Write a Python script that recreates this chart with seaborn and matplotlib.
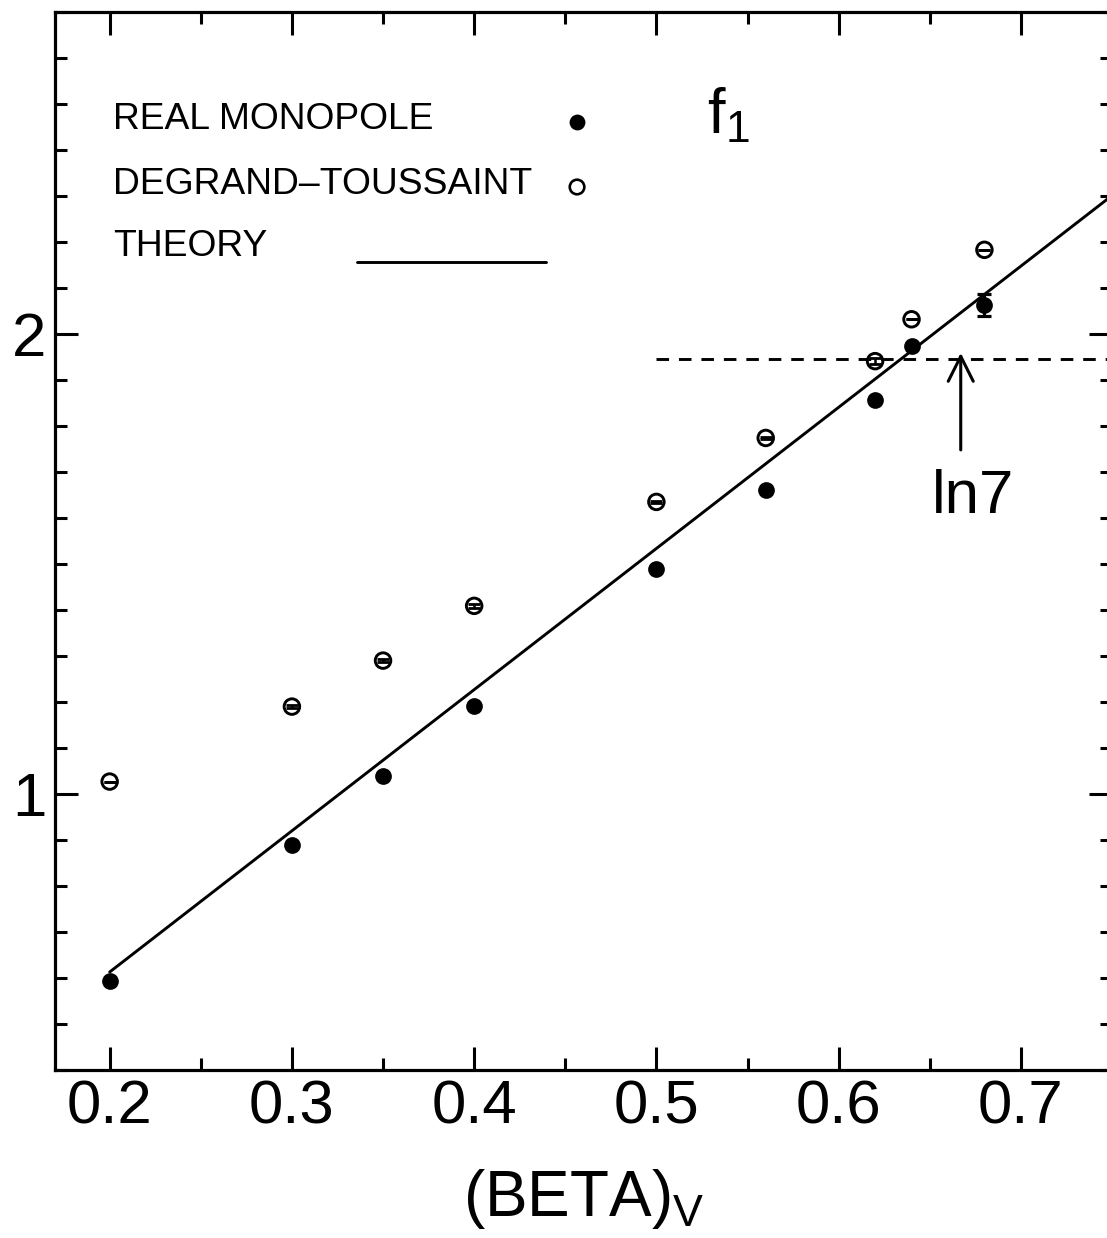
import numpy as np
import pandas as pd
import matplotlib
matplotlib.use("Agg")
import matplotlib.pyplot as plt
from matplotlib.ticker import MultipleLocator, FixedLocator, FormatStrFormatter
import seaborn as sns

# ---------------- data ----------------
beta = [0.20, 0.30, 0.35, 0.40, 0.50, 0.56, 0.62, 0.64, 0.68]
real_monopole = [0.593, 0.889, 1.039, 1.192, 1.489, 1.661, 1.857, 1.974, 2.063]
real_err = [0.0, 0.0, 0.0, 0.0, 0.0, 0.0, 0.0, 0.0, 0.023]
degrand_toussaint = [1.027, 1.190, 1.290, 1.409, 1.635, 1.774, 1.941, 2.032, 2.183]
dt_err = [0.0, 0.004, 0.004, 0.004, 0.003, 0.003, 0.007, 0.0, 0.0]

theory_beta = [0.20, 0.75]
theory_f1 = [0.613, 2.301]

ln7_beta = [0.50, 0.75]
ln7_value = float(np.log(7.0))
arrow_beta = 0.667
arrow_from = 1.748
arrow_to = 1.959

legend_labels = ["REAL MONOPOLE", "DEGRAND\u2013TOUSSAINT", "THEORY"]
x_ticks = [0.2, 0.3, 0.4, 0.5, 0.6, 0.7]
y_ticks = [1, 2]

# ---------------- style ----------------
sns.set_theme(style="ticks")
plt.rcParams["font.family"] = ["Liberation Sans", "DejaVu Sans"]
plt.rcParams["mathtext.fontset"] = "custom"
plt.rcParams["mathtext.rm"] = "Liberation Sans"
plt.rcParams["mathtext.it"] = "Liberation Sans:italic"
plt.rcParams["axes.linewidth"] = 2.3
plt.rcParams["axes.edgecolor"] = "black"

W, H = 1107, 1238
fig = plt.figure(figsize=(W / 100, H / 100), dpi=100)
fig.patch.set_facecolor("white")
ax = fig.add_axes([55 / W, (H - 1070) / H, (1112 - 55) / W, (1070 - 12) / H])
ax.set_facecolor("white")

df_real = pd.DataFrame({"beta": beta, "f1": real_monopole, "err": real_err})
df_dt = pd.DataFrame({"beta": beta, "f1": degrand_toussaint, "err": dt_err})
df_th = pd.DataFrame({"beta": theory_beta, "f1": theory_f1})

LW = 2.1

# theory line
sns.lineplot(data=df_th, x="beta", y="f1", color="black", linewidth=LW, ax=ax, zorder=2)

# ln7 dashed line
ax.plot(ln7_beta, [ln7_value, ln7_value], color="black", linewidth=LW,
        dashes=(4.3, 3.4), zorder=2)

# data points
sns.scatterplot(data=df_real, x="beta", y="f1", color="black", s=145,
                linewidth=0, marker="o", ax=ax, zorder=4)
sns.scatterplot(data=df_dt, x="beta", y="f1", facecolor="none", edgecolor="black",
                s=125, linewidth=2.1, marker="o", ax=ax, zorder=4)

# error bars
ax.errorbar(df_real["beta"], df_real["f1"], yerr=df_real["err"], fmt="none",
            ecolor="black", elinewidth=2.2, capsize=5.0, capthick=2.3, zorder=5)
ax.errorbar(df_dt["beta"], df_dt["f1"], yerr=df_dt["err"], fmt="none",
            ecolor="black", elinewidth=1.8, capsize=4.6, capthick=2.0, zorder=5)

# arrow + ln7 label
ax.annotate("", xy=(arrow_beta, arrow_to), xytext=(arrow_beta, arrow_from),
            arrowprops=dict(arrowstyle="->,head_length=0.4,head_width=0.2",
                            mutation_scale=45, lw=2.2, color="black",
                            shrinkA=0, shrinkB=0), zorder=6)
ax.text(0.6738, 1.645, "ln7", fontsize=44.5, ha="center", va="center", color="black")

# hand-made legend (axes fraction)
tr = ax.transAxes
ax.text(0.0549, 0.898, legend_labels[0], transform=tr, fontsize=26.8,
        ha="left", va="center", color="black")
ax.text(0.0549, 0.8365, legend_labels[1], transform=tr, fontsize=26.8,
        ha="left", va="center", color="black")
ax.text(0.0549, 0.7779, legend_labels[2], transform=tr, fontsize=26.8,
        ha="left", va="center", color="black")
ax.scatter([0.4939], [0.896], transform=tr, s=130, color="black", linewidth=0,
           zorder=6, clip_on=False)
ax.scatter([0.4939], [0.8346], transform=tr, s=110, facecolor="none",
           edgecolor="black", linewidth=1.9, zorder=6, clip_on=False)
ax.plot([0.2857, 0.4645], [0.7637, 0.7637], transform=tr, color="black",
        linewidth=LW)
ax.text(0.617, 0.8856, r"$\mathregular{f_1}$", transform=tr, fontsize=45.5,
        ha="left", va="baseline", color="black")

# axes, ticks
ax.set_xlim(0.17, 0.75)
ax.set_ylim(0.4, 2.7)
ax.xaxis.set_major_locator(FixedLocator(x_ticks))
ax.xaxis.set_minor_locator(MultipleLocator(0.05))
ax.yaxis.set_major_locator(FixedLocator(y_ticks))
ax.yaxis.set_minor_locator(MultipleLocator(0.1))
ax.xaxis.set_major_formatter(FormatStrFormatter("%.1f"))
ax.yaxis.set_major_formatter(FormatStrFormatter("%d"))
ax.tick_params(which="both", direction="in", top=True, right=True,
               width=2.2, color="black", labelcolor="black")
ax.tick_params(which="major", length=16.5, labelsize=44.5)
ax.tick_params(which="minor", length=8.6)
ax.tick_params(axis="x", which="major", pad=7)
ax.tick_params(axis="y", which="major", pad=6)
for sp in ax.spines.values():
    sp.set_visible(True)
    sp.set_linewidth(2.3)
    sp.set_color("black")

ax.set_xlabel(r"$\mathregular{(BETA)_V}$", fontsize=46, labelpad=22, color="black")
ax.set_ylabel("")

fig.savefig("out.png", dpi=100, facecolor="white")
